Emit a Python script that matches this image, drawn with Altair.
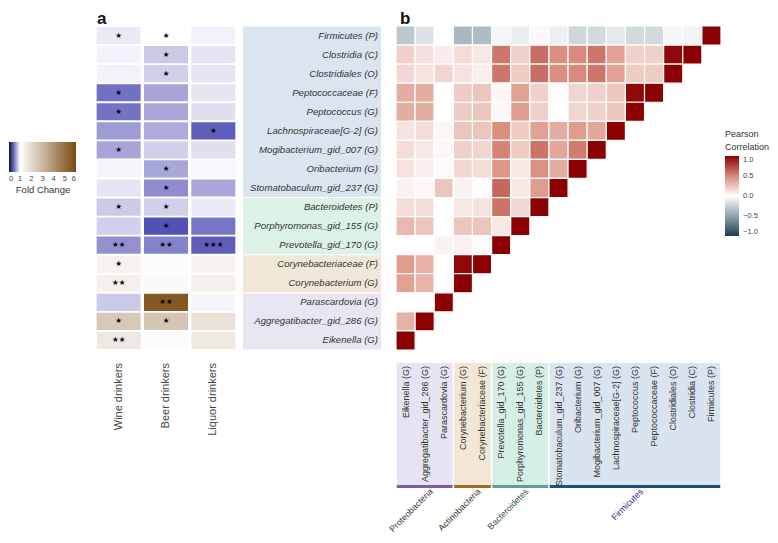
import altair as alt
import pandas as pd

# ---------------- data ----------------
ROWS = [
    "Firmicutes (P)", "Clostridia (C)", "Clostridiales (O)", "Peptococcaceae (F)",
    "Peptococcus (G)", "Lachnospiraceae[G-2] (G)", "Mogibacterium_gid_007 (G)",
    "Oribacterium (G)", "Stomatobaculum_gid_237 (G)", "Bacteroidetes (P)",
    "Porphyromonas_gid_155 (G)", "Prevotella_gid_170 (G)", "Corynebacteriaceae (F)",
    "Corynebacterium (G)", "Parascardovia (G)", "Aggregatibacter_gid_286 (G)", "Eikenella (G)",
]
PHYLA = ["Firmicutes", "Bacteroidetes", "Actinobacteria", "Proteobacteria"]
PHYLUM_SIZES = [9, 3, 2, 3]

GROUPS = ["Wine drinkers", "Beer drinkers", "Liquor drinkers"]
WINE = [0.92, 0.95, 0.95, 0.45, 0.46, 0.62, 0.65, 0.96, 0.90, 0.80, 0.82, 0.58, 1.35, 1.40, 0.80, 2.50, 1.60]
BEER = [1.03, 0.80, 0.82, 0.65, 0.66, 0.68, 0.82, 0.66, 0.56, 0.82, 0.33, 0.52, 1.08, 1.15, 5.60, 2.60, 1.10]
LIQUOR = [0.95, 0.90, 0.90, 0.90, 0.88, 0.38, 0.88, 0.97, 0.66, 0.92, 0.47, 0.38, 1.35, 1.40, 0.96, 1.80, 1.60]
WINE_SIG = ["*", "", "", "*", "*", "", "*", "", "", "*", "", "**", "*", "**", "", "*", "**"]
BEER_SIG = ["*", "*", "*", "", "", "", "", "*", "*", "*", "*", "**", "", "", "**", "*", ""]
LIQUOR_SIG = ["", "", "", "", "", "*", "", "", "", "", "", "***", "", "", "", "", ""]

# Pearson correlations: one list per row (top to bottom), columns left to right
CORR = [
    [-0.30, -0.15, 0.00, -0.38, -0.36, -0.05, -0.10, 0.03, -0.08, -0.22, -0.20, -0.12, -0.20, -0.20, -0.04, -0.06, 1.0],
    [0.20, 0.13, 0.08, 0.15, 0.10, 0.57, 0.20, 0.60, 0.48, 0.50, 0.57, 0.40, 0.20, 0.20, 0.97, 1.0],
    [0.17, 0.12, 0.18, 0.12, 0.07, 0.57, 0.22, 0.60, 0.48, 0.50, 0.57, 0.40, 0.22, 0.22, 1.0],
    [0.35, 0.35, 0.00, 0.22, 0.25, 0.03, 0.40, 0.20, 0.01, 0.18, 0.20, 0.24, 0.97, 1.0],
    [0.35, 0.35, 0.00, 0.22, 0.25, 0.03, 0.42, 0.20, 0.00, 0.18, 0.20, 0.24, 1.0],
    [0.12, 0.15, 0.04, 0.25, 0.25, 0.48, 0.22, 0.40, 0.35, 0.42, 0.38, 1.0],
    [0.15, 0.10, 0.03, 0.20, 0.18, 0.52, 0.22, 0.58, 0.38, 0.55, 1.0],
    [0.12, 0.07, 0.02, 0.17, 0.15, 0.45, 0.10, 0.47, 0.35, 1.0],
    [0.05, 0.03, 0.25, 0.05, 0.01, 0.62, 0.10, 0.42, 1.0],
    [0.15, 0.14, 0.00, 0.10, 0.12, 0.58, 0.17, 1.0],
    [0.30, 0.25, 0.00, 0.25, 0.25, 0.10, 1.0],
    [0.00, 0.00, 0.05, 0.06, 0.02, 1.0],
    [0.42, 0.33, 0.00, 0.97, 1.0],
    [0.40, 0.32, 0.00, 1.0],
    [0.00, 0.00, 1.0],
    [0.33, 1.0],
    [1.0],
]

# ---------------- styles ----------------
FONT = "Liberation Sans"
BAND_FILL = ["#dbe5f0", "#dcf2e6", "#f1e7d8", "#e9e5f2"]
BOX_FILL = ["#d9e4ef", "#d6efe6", "#f2e7d6", "#e8e3f2"]
LINE_COL = ["#1f4e79", "#5f9ea0", "#a36a25", "#7d5f9e"]
PHYLUM_TXT = ["#2b2b80", "#2f4f4f", "#3d3020", "#3a2f4f"]

n = len(ROWS)
COLS_B = ROWS[::-1]

# ---------------- frames ----------------
df_rows = pd.DataFrame({"taxon": ROWS, "ri": range(n)})

a_rec = []
for gi, (g, vals, sigs) in enumerate(zip(GROUPS, [WINE, BEER, LIQUOR], [WINE_SIG, BEER_SIG, LIQUOR_SIG])):
    for ri, (t, v, s) in enumerate(zip(ROWS, vals, sigs)):
        a_rec.append(dict(group=g, gi=gi, taxon=t, ri=ri, fold=v, stars=s.replace("*", "★")))
dfa = pd.DataFrame(a_rec)
df_groups = pd.DataFrame({"group": GROUPS, "gi": range(len(GROUPS))})

b_rec = []
for i, vals in enumerate(CORR):
    for j, v in enumerate(vals):
        b_rec.append(dict(row=ROWS[i], col=COLS_B[j], i=i, j=j, r=v))
dfb = pd.DataFrame(b_rec)
df_cols = pd.DataFrame({"taxon": COLS_B, "j": range(n)})

ph_rec = []
start = 0
for p, size in zip(PHYLA, PHYLUM_SIZES):
    ph_rec.append(dict(phylum=p, start=start, end=start + size,
                       bstart=n - start - size, bend=n - start))
    start += size
df_ph = pd.DataFrame(ph_rec)

# ---------------- scales ----------------
y_rows = alt.Scale(domain=[0, n], range=[18, 342])
x_a = alt.Scale(domain=[0, 3], range=[87, 229])
x_b = alt.Scale(domain=[0, n], range=[388, 713])
fold_scale = alt.Scale(domain=[0, 0.3, 1, 6],
                       range=["#0d0d3d", "#4a4ab2", "#ffffff", "#7a4a10"], interpolate="rgb")
corr_scale = alt.Scale(domain=[-1, -0.5, 0, 0.5, 1],
                       range=["#1d3b52", "#8fa3ab", "#ffffff", "#d98a7a", "#8b0000"], interpolate="rgb")

# ---------------- layers ----------------
band_rows = alt.Chart(df_ph).transform_calculate(
    ys="datum.start + 0.03", ye="datum.end - 0.03"
).mark_rect().encode(
    x=alt.value(235), x2=alt.value(373),
    y=alt.Y("ys:Q", scale=y_rows, axis=None), y2="ye:Q",
    color=alt.Color("phylum:N", scale=alt.Scale(domain=PHYLA, range=BAND_FILL), legend=None),
)

row_labels = alt.Chart(df_rows).transform_calculate(yc="datum.ri + 0.5").mark_text(
    align="right", baseline="middle", fontStyle="italic", fontSize=9.6, color="#333", font=FONT
).encode(x=alt.value(370), y=alt.Y("yc:Q", scale=y_rows, axis=None), text="taxon:N")

a_cells = alt.Chart(dfa).transform_calculate(
    x0="datum.gi + 0.035", x1="datum.gi + 0.965", y0="datum.ri + 0.05", y1="datum.ri + 0.95"
).mark_rect().encode(
    x=alt.X("x0:Q", scale=x_a, axis=None), x2="x1:Q",
    y=alt.Y("y0:Q", scale=y_rows, axis=None), y2="y1:Q",
    color=alt.Color("fold:Q", scale=fold_scale, legend=alt.Legend(
        title="Fold Change", orient="none", legendX=1, legendY=134, direction="horizontal",
        gradientLength=67, gradientThickness=30, titleOrient="bottom", titleAnchor="middle",
        titleFontSize=9.5, titleFontWeight="normal", titleColor="#333", titlePadding=2,
        labelFontSize=7.5, labelColor="#444", labelOffset=3, labelAlign="center",
        values=[0, 1, 2, 3, 4, 5, 6], labelOverlap=False, gradientStrokeWidth=0)),
)

a_stars = alt.Chart(dfa).transform_filter("datum.stars != ''").transform_calculate(
    xc="datum.gi + 0.5", yc="datum.ri + 0.5"
).mark_text(fontSize=7.5, color="black", baseline="middle", font="DejaVu Sans").encode(
    x=alt.X("xc:Q", scale=x_a, axis=None), y=alt.Y("yc:Q", scale=y_rows, axis=None), text="stars:N"
)

a_group_labels = alt.Chart(df_groups).transform_calculate(xc="datum.gi + 0.5").mark_text(
    angle=270, align="right", baseline="middle", fontSize=11, color="#444", font=FONT
).encode(x=alt.X("xc:Q", scale=x_a, axis=None), y=alt.value(355), text="group:N")

b_cells = alt.Chart(dfb).transform_calculate(
    x0="datum.j", x1="datum.j + 1", y0="datum.i", y1="datum.i + 1"
).mark_rect(stroke="white", strokeWidth=1.2).encode(
    x=alt.X("x0:Q", scale=x_b, axis=None), x2="x1:Q",
    y=alt.Y("y0:Q", scale=y_rows, axis=None), y2="y1:Q",
    color=alt.Color("r:Q", scale=corr_scale, legend=alt.Legend(
        title=["Pearson", "Correlation"], orient="none", legendX=717, legendY=122,
        direction="vertical", gradientLength=80, gradientThickness=14,
        titleFontSize=9, titleFontWeight="normal", titleColor="#333", titleLineHeight=13,
        titlePadding=4, labelFontSize=7.5, labelColor="#444", labelOffset=4,
        labelBaseline="middle", values=[-1, -0.5, 0, 0.5, 1], format=".1f",
        gradientStrokeWidth=0)),
)

bottom_boxes = alt.Chart(df_ph).transform_calculate(
    xs="datum.bstart + 0.04", xe="datum.bend - 0.04"
).mark_rect().encode(
    x=alt.X("xs:Q", scale=x_b, axis=None), x2="xe:Q",
    y=alt.value(355), y2=alt.value(477),
    color=alt.Color("phylum:N", scale=alt.Scale(domain=PHYLA, range=BOX_FILL), legend=None),
)

bottom_lines = alt.Chart(df_ph).transform_calculate(
    xs="datum.bstart + 0.04", xe="datum.bend - 0.04"
).mark_rect().encode(
    x=alt.X("xs:Q", scale=x_b, axis=None), x2="xe:Q",
    y=alt.value(477), y2=alt.value(480),
    color=alt.Color("phylum:N", scale=alt.Scale(domain=PHYLA, range=LINE_COL), legend=None),
)

col_labels = alt.Chart(df_cols).transform_calculate(xc="datum.j + 0.5").mark_text(
    angle=270, align="right", baseline="middle", fontSize=9, color="#333", font=FONT
).encode(x=alt.X("xc:Q", scale=x_b, axis=None), y=alt.value(358), text="taxon:N")

phylum_labels = alt.Chart(df_ph).transform_calculate(
    xc="(datum.bstart + datum.bend) / 2 + 0.35"
).mark_text(angle=315, align="right", baseline="middle", fontSize=8.8, font=FONT).encode(
    x=alt.X("xc:Q", scale=x_b, axis=None), y=alt.value(482), text="phylum:N",
    color=alt.Color("phylum:N", scale=alt.Scale(domain=PHYLA, range=PHYLUM_TXT), legend=None),
)

df_titles = pd.DataFrame({"t": ["a", "b"], "panel": [0, 1]})
title_a = alt.Chart(df_titles).transform_filter("datum.panel == 0").mark_text(
    align="left", baseline="alphabetic", fontSize=17, fontWeight="bold", color="#111", font=FONT
).encode(x=alt.value(89), y=alt.value(16), text="t:N")
title_b = alt.Chart(df_titles).transform_filter("datum.panel == 1").mark_text(
    align="left", baseline="alphabetic", fontSize=17, fontWeight="bold", color="#111", font=FONT
).encode(x=alt.value(392), y=alt.value(16), text="t:N")

chart = alt.layer(
    band_rows, row_labels, a_cells, a_stars, a_group_labels, b_cells,
    bottom_boxes, bottom_lines, col_labels, phylum_labels, title_a, title_b,
).resolve_scale(
    x="independent", y="independent", color="independent"
).properties(
    width=762, height=527, padding=0, autosize=alt.AutoSizeParams(type="none")
).configure(font=FONT).configure_view(stroke=None)

chart.save("out.html", embed_options={"renderer": "svg", "actions": False})
